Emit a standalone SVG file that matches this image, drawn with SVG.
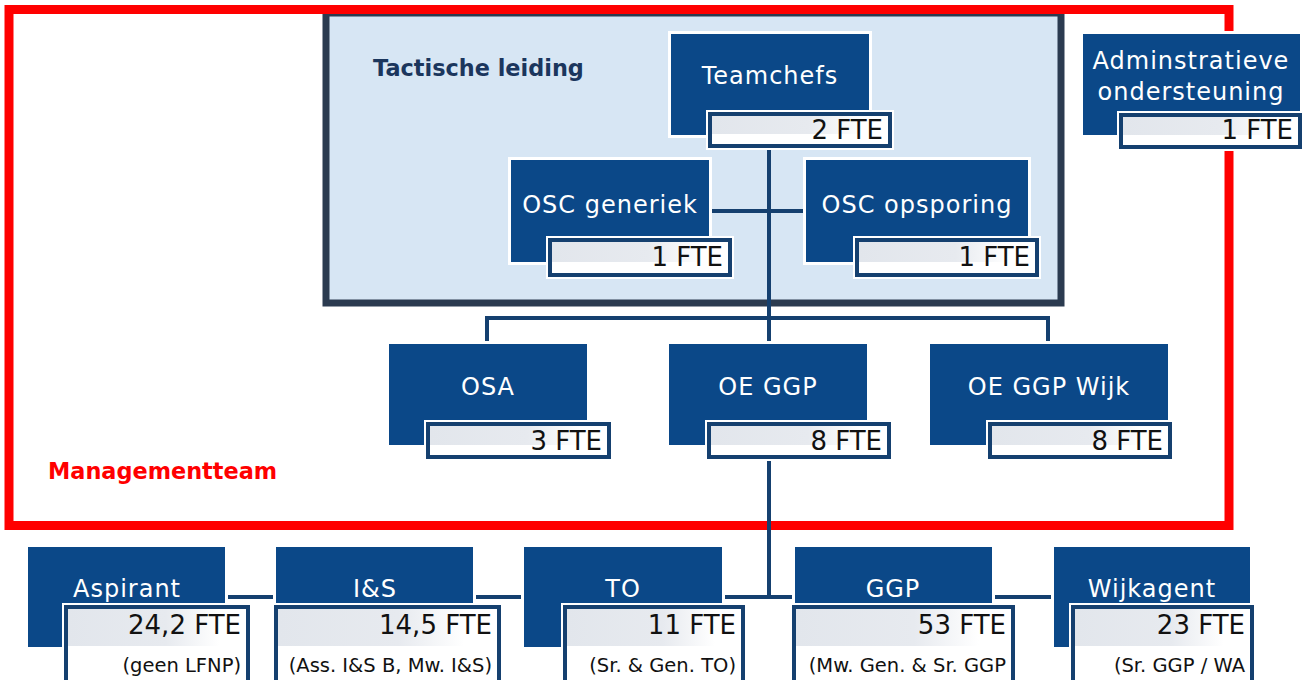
<svg xmlns="http://www.w3.org/2000/svg" width="1310" height="680" viewBox="0 0 1310 680">
  <defs>
    <linearGradient id="lblShade" x1="0" y1="0" x2="1" y2="0">
      <stop offset="0" stop-color="#e2e6ec"/>
      <stop offset="0.55" stop-color="#e7eaef"/>
      <stop offset="0.85" stop-color="#ffffff"/>
    </linearGradient>
    <style>
      .box { fill: #0b4888; stroke: #ffffff; stroke-width: 3; }
      .halo { fill: #ffffff; }
      .lbl { fill: #ffffff; stroke: #15406f; stroke-width: 4; }
      .shade { fill: url(#lblShade); }
      .title { font-family: "DejaVu Sans", sans-serif; font-size: 24px; letter-spacing: 1px; fill: #ffffff; text-anchor: middle; }
      .fte { font-family: "DejaVu Sans", sans-serif; font-size: 26px; fill: #111111; text-anchor: end; }
      .sub { font-family: "DejaVu Sans", sans-serif; font-size: 19.5px; fill: #111111; text-anchor: end; }
      .conn { stroke: #15406f; stroke-width: 4; fill: none; }
      .head { font-family: "DejaVu Sans", sans-serif; font-weight: bold; }
    </style>
  </defs>

  <rect width="1310" height="680" fill="#ffffff"/>

  <!-- tactical leadership panel -->
  <g id="tactische-leiding">
    <rect x="326" y="13" width="735" height="290" fill="#d7e6f4" stroke="#2b3b50" stroke-width="7"/>
    <text class="head" x="373" y="76" font-size="22.4" fill="#1b365d">Tactische leiding</text>
  </g>

  <!-- management team frame -->
  <g id="managementteam">
    <rect x="9" y="9.5" width="1220" height="516" fill="none" stroke="#ff0000" stroke-width="9"/>
    <text class="head" x="48" y="479" font-size="22.4" fill="#ff0000">Managementteam</text>
  </g>

  <!-- connectors -->
  <g id="connectors">
    <line class="conn" x1="769" y1="130" x2="769" y2="597"/>
    <line class="conn" x1="700" y1="211" x2="815" y2="211"/>
    <polyline class="conn" points="487,344 487,318 1048,318 1048,344"/>
    <line class="conn" x1="126" y1="597" x2="1152" y2="597"/>
  </g>

  <!-- nodes -->
  <g id="teamchefs">
    <rect class="box" x="669.5" y="32.5" width="201" height="104"/>
    <rect class="halo" x="706" y="110" width="188" height="40"/>
    <rect class="lbl" x="710" y="114" width="180" height="32"/>
    <rect class="shade" x="712" y="116" width="176" height="18"/>
    <text class="title" x="770" y="84">Teamchefs</text>
    <text class="fte" x="883" y="139">2 FTE</text>
  </g>

  <g id="osc-generiek">
    <rect class="box" x="509.5" y="158.5" width="201" height="105"/>
    <rect class="halo" x="546" y="236" width="188" height="43"/>
    <rect class="lbl" x="550" y="240" width="180" height="35"/>
    <rect class="shade" x="552" y="242" width="176" height="20"/>
    <text class="title" x="610" y="213">OSC generiek</text>
    <text class="fte" x="723" y="266">1 FTE</text>
  </g>

  <g id="osc-opsporing">
    <rect class="box" x="804.5" y="158.5" width="225" height="105"/>
    <rect class="halo" x="853" y="236" width="188" height="43"/>
    <rect class="lbl" x="857" y="240" width="180" height="35"/>
    <rect class="shade" x="859" y="242" width="176" height="20"/>
    <text class="title" x="917" y="213">OSC opsporing</text>
    <text class="fte" x="1030" y="266">1 FTE</text>
  </g>

  <g id="administratieve-ondersteuning">
    <rect class="box" x="1081.5" y="32.5" width="220" height="104"/>
    <rect class="halo" x="1117" y="111" width="187" height="40"/>
    <rect class="lbl" x="1121" y="115" width="179" height="32"/>
    <rect class="shade" x="1123" y="117" width="175" height="18"/>
    <text class="title" x="1191" y="69">Adminstratieve</text>
    <text class="title" x="1191" y="100">ondersteuning</text>
    <text class="fte" x="1293" y="139">1 FTE</text>
  </g>

  <g id="osa">
    <rect class="box" x="387.5" y="342.5" width="201" height="104"/>
    <rect class="halo" x="424" y="420" width="189" height="41"/>
    <rect class="lbl" x="428" y="424" width="181" height="33"/>
    <rect class="shade" x="430" y="426" width="177" height="19"/>
    <text class="title" x="488" y="395">OSA</text>
    <text class="fte" x="602" y="450">3 FTE</text>
  </g>

  <g id="oe-ggp">
    <rect class="box" x="667.5" y="342.5" width="201" height="104"/>
    <rect class="halo" x="705" y="420" width="188" height="41"/>
    <rect class="lbl" x="709" y="424" width="180" height="33"/>
    <rect class="shade" x="711" y="426" width="176" height="19"/>
    <text class="title" x="768" y="395">OE GGP</text>
    <text class="fte" x="882" y="450">8 FTE</text>
  </g>

  <g id="oe-ggp-wijk">
    <rect class="box" x="928.5" y="342.5" width="241" height="104"/>
    <rect class="halo" x="986" y="420" width="188" height="41"/>
    <rect class="lbl" x="990" y="424" width="180" height="33"/>
    <rect class="shade" x="992" y="426" width="176" height="19"/>
    <text class="title" x="1049" y="395">OE GGP Wijk</text>
    <text class="fte" x="1163" y="450">8 FTE</text>
  </g>

  <g id="aspirant">
    <rect class="box" x="26.5" y="545.5" width="200" height="103"/>
    <rect class="halo" x="62" y="603" width="190" height="90"/>
    <rect class="lbl" x="66" y="607" width="182" height="82"/>
    <rect class="shade" x="68" y="609" width="178" height="37"/>
    <text class="title" x="127" y="597">Aspirant</text>
    <text class="fte" x="241" y="634">24,2 FTE</text>
    <text class="sub" x="241" y="672">(geen LFNP)</text>
  </g>

  <g id="i-en-s">
    <rect class="box" x="274.5" y="545.5" width="200" height="103"/>
    <rect class="halo" x="272" y="603" width="231" height="90"/>
    <rect class="lbl" x="276" y="607" width="223" height="82"/>
    <rect class="shade" x="278" y="609" width="219" height="37"/>
    <text class="title" x="375" y="597">I&amp;S</text>
    <text class="fte" x="492" y="634">14,5 FTE</text>
    <text class="sub" x="492" y="672">(Ass. I&amp;S B, Mw. I&amp;S)</text>
  </g>

  <g id="to">
    <rect class="box" x="522.5" y="545.5" width="201" height="103"/>
    <rect class="halo" x="561" y="603" width="186" height="90"/>
    <rect class="lbl" x="565" y="607" width="178" height="82"/>
    <rect class="shade" x="567" y="609" width="174" height="37"/>
    <text class="title" x="623" y="597">TO</text>
    <text class="fte" x="736" y="634">11 FTE</text>
    <text class="sub" x="736" y="672">(Sr. &amp; Gen. TO)</text>
  </g>

  <g id="ggp">
    <rect class="box" x="793.5" y="545.5" width="200" height="103"/>
    <rect class="halo" x="790" y="603" width="227" height="90"/>
    <rect class="lbl" x="794" y="607" width="219" height="82"/>
    <rect class="shade" x="796" y="609" width="215" height="37"/>
    <text class="title" x="893" y="597">GGP</text>
    <text class="fte" x="1006" y="634">53 FTE</text>
    <text class="sub" x="1006" y="672">(Mw. Gen. &amp; Sr. GGP</text>
  </g>

  <g id="wijkagent">
    <rect class="box" x="1052.5" y="545.5" width="199" height="103"/>
    <rect class="halo" x="1069" y="603" width="187" height="90"/>
    <rect class="lbl" x="1073" y="607" width="179" height="82"/>
    <rect class="shade" x="1075" y="609" width="175" height="37"/>
    <text class="title" x="1152" y="597">Wijkagent</text>
    <text class="fte" x="1245" y="634">23 FTE</text>
    <text class="sub" x="1245" y="672">(Sr. GGP / WA</text>
  </g>
</svg>
